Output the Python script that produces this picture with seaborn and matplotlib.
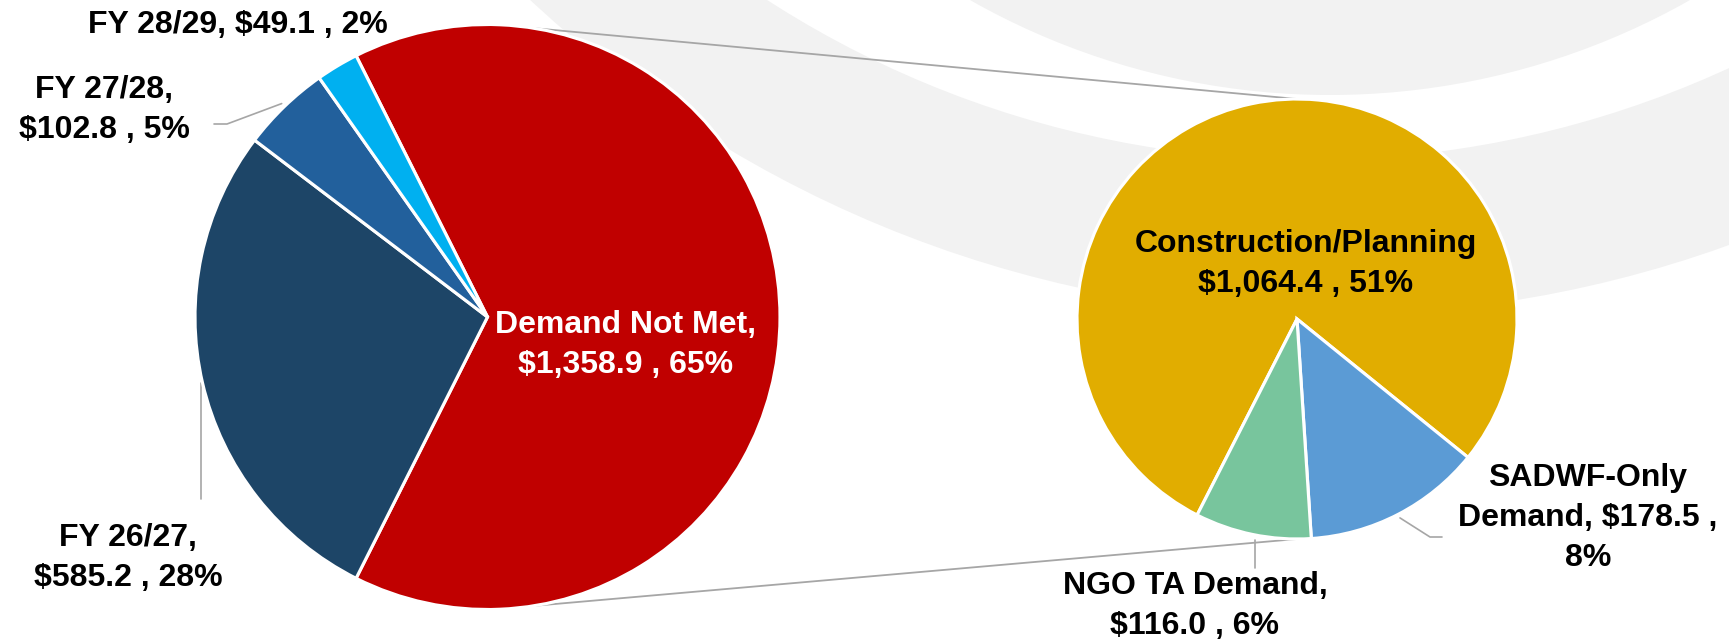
import numpy as np
import matplotlib
matplotlib.use("Agg")
import matplotlib.pyplot as plt
from matplotlib.patches import Circle
import seaborn as sns

# left pie: total demand split by funding year
left_names = ["Demand Not Met", "FY 26/27", "FY 27/28", "FY 28/29"]
left_values = [1358.9, 585.2, 102.8, 49.1]
left_pcts = [65, 28, 5, 2]
left_colors = ["#C00000", "#1D4567", "#22609C", "#00B0F0"]

# right pie: breakdown of the demand not met
right_names = ["Construction/Planning", "SADWF-Only\nDemand", "NGO TA Demand"]
right_values = [1064.4, 178.5, 116.0]
right_pcts = [51, 8, 6]
right_colors = ["#E1AD00", "#5B9BD5", "#78C59D"]

W, H = 1729, 642


def up(y):
    # picture rows go down, axes y goes up
    return H - y


def money(v):
    return f"${v:,.1f}"


sns.set_theme(style="white")
plt.rcParams["font.family"] = ["Liberation Sans", "DejaVu Sans"]

fig = plt.figure(figsize=(W / 100, H / 100), dpi=100, facecolor="white")
ax = fig.add_axes([0, 0, 1, 1])

# decorative grey swooshes in the background
ax.add_patch(Circle((1330, up(-858)), 1173, color="#F2F2F2", zorder=0, lw=0))
ax.add_patch(Circle((1310, up(-841)), 1001, color="white", zorder=0, lw=0))
ax.add_patch(Circle((1330, up(-635)), 730, color="#F2F2F2", zorder=0, lw=0))

wedge_style = dict(edgecolor="white", linewidth=2.25)

l_center, l_r = (487.5, up(317)), 292.5
r_center, r_r = (1297, up(319)), 220

# the split slice faces the second pie
left_start = 180 * left_values[0] / sum(left_values)
lw_, _ = ax.pie(left_values, colors=left_colors, startangle=left_start,
                counterclock=False, center=l_center, radius=l_r,
                wedgeprops=wedge_style, frame=True)
rw_, _ = ax.pie(right_values, colors=right_colors, startangle=243,
                counterclock=False, center=r_center, radius=r_r,
                wedgeprops=wedge_style, frame=True)

# connector lines between the two pies
grey = "#A6A6A6"
a = np.deg2rad(81)
for s in (1, -1):
    x0 = l_center[0] + l_r * np.cos(a)
    y0 = l_center[1] + s * l_r * np.sin(a)
    x1, y1 = r_center[0], r_center[1] + s * r_r
    ax.plot([x0, x1], [y0, y1], color=grey, lw=1.3, zorder=0.5)


def leader(wedge, pts, vertical=False):
    cx, cy = wedge.center
    r = wedge.r + 4
    if vertical:
        # straight drop from the rim at the label's x
        x = pts[0][0]
        sx = x
        sy = cy - np.sqrt(max(r ** 2 - (x - cx) ** 2, 0))
    else:
        mid = np.deg2rad((wedge.theta1 + wedge.theta2) / 2)
        sx, sy = cx + r * np.cos(mid), cy + r * np.sin(mid)
    xs = [sx] + [p[0] for p in pts]
    ys = [sy] + [up(p[1]) for p in pts]
    ax.plot(xs, ys, color=grey, lw=1.2, zorder=0.5)


leader(lw_[2], [(227, 124), (214, 124)])
leader(rw_[1], [(1430, 537), (1442, 537)])
# the two vertical leaders start just below the rim
ax.plot([201, 201], [up(383), up(499)], color=grey, lw=1.2, zorder=0.5)
ax.plot([1255, 1255], [up(540), up(568)], color=grey, lw=1.2, zorder=0.5)

txt = dict(ha="center", va="center", fontsize=23, fontweight="bold",
           linespacing=1.45, zorder=5)

n, v, p = left_names, left_values, left_pcts
ax.text(626, up(345), f"{n[0]},\n{money(v[0])} , {p[0]}%", color="white", **txt)
ax.text(128, up(558), f"{n[1]},\n{money(v[1])} , {p[1]}%", color="black", **txt)
ax.text(104, up(110), f"{n[2]},\n{money(v[2])} , {p[2]}%", color="black", **txt)
ax.text(238, up(25), f"{n[3]}, {money(v[3])} , {p[3]}%", color="black", **txt)

n, v, p = right_names, right_values, right_pcts
ax.text(1306, up(264), f"{n[0]}\n{money(v[0])} , {p[0]}%", color="black", **txt)
ax.text(1588, up(518), f"{n[1]}, {money(v[1])} ,\n{p[1]}%", color="black", **txt)
ax.text(1195, up(606), f"{n[2]},\n{money(v[2])} , {p[2]}%", color="black", **txt)

ax.set_xlim(0, W)
ax.set_ylim(0, H)
ax.set_aspect("equal")
ax.axis("off")

fig.savefig("out.png", dpi=100, facecolor="white")
